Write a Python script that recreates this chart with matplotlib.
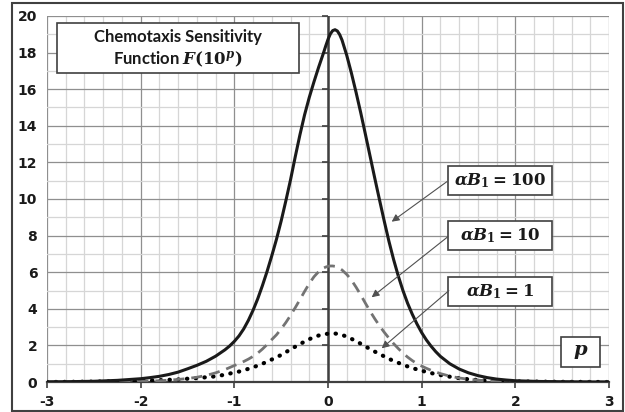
import matplotlib
matplotlib.use("Agg")
import matplotlib.pyplot as plt
from matplotlib.patches import Rectangle
from matplotlib.ticker import MultipleLocator
from matplotlib.markers import TICKLEFT

# p = log10 of concentration
P = [-3.0, -2.75, -2.5, -2.25, -2.0, -1.9, -1.8, -1.7, -1.6, -1.5, -1.4, -1.3, -1.2, -1.1,
     -1.05, -1.0, -0.95, -0.9, -0.85, -0.8, -0.75, -0.7, -0.65, -0.6, -0.55,
     -0.5, -0.45, -0.4, -0.35, -0.3, -0.25, -0.2, -0.15, -0.1, -0.05, -0.025,
     0.0, 0.025,
     0.05, 0.075, 0.1, 0.125, 0.15, 0.2, 0.25, 0.3, 0.35, 0.4, 0.45, 0.5, 0.55, 0.6,
     0.65, 0.7, 0.75, 0.8, 0.85, 0.9, 0.95, 1.0, 1.05, 1.1, 1.15, 1.2,
     1.3, 1.4, 1.5, 1.6, 1.7, 1.8, 1.9, 2.0, 2.25, 2.5, 2.75, 3.0]

F_100 = [0.01, 0.02, 0.04, 0.09, 0.18, 0.24, 0.31, 0.41, 0.54, 0.72, 0.91, 1.13, 1.41, 1.76,
         1.97, 2.22, 2.52, 2.9, 3.37, 3.92, 4.55, 5.27, 6.05, 6.9, 7.8,
         8.8, 9.9, 11.05, 12.3, 13.5, 14.6, 15.55, 16.4, 17.2, 17.95, 18.35,
         18.72, 19.02,
         19.2, 19.25, 19.18, 18.98, 18.68, 17.85, 16.88, 15.82, 14.7, 13.52, 12.32, 11.12, 9.95, 8.8,
         7.7, 6.7, 5.8, 5.0, 4.3, 3.7, 3.17, 2.7, 2.3, 1.96, 1.66, 1.4,
         1.0, 0.71, 0.5, 0.35, 0.24, 0.16, 0.11, 0.07, 0.03, 0.015, 0.005, 0.0]

F_10 = [0.0, 0.005, 0.01, 0.02, 0.04, 0.05, 0.07, 0.1, 0.14, 0.19, 0.26, 0.36, 0.5, 0.68,
        0.79, 0.9, 1.0, 1.12, 1.25, 1.4, 1.58, 1.8, 2.05, 2.32, 2.58,
        2.9, 3.25, 3.64, 4.06, 4.5, 4.95, 5.38, 5.75, 6.03, 6.22, 6.28,
        6.32, 6.34,
        6.34, 6.32, 6.28, 6.21, 6.12, 5.88, 5.57, 5.18, 4.75, 4.3, 3.86, 3.45, 3.07, 2.72,
        2.4, 2.1, 1.83, 1.58, 1.36, 1.17, 1.0, 0.87, 0.75, 0.64, 0.55, 0.46,
        0.32, 0.22, 0.15, 0.1, 0.07, 0.05, 0.03, 0.02, 0.01, 0.005, 0.0, 0.0]

F_1 = [0.0, 0.01, 0.02, 0.04, 0.06, 0.08, 0.1, 0.12, 0.14, 0.18, 0.21, 0.26, 0.31, 0.4,
       0.46, 0.52, 0.57, 0.64, 0.72, 0.8, 0.9, 1.0, 1.11, 1.23, 1.35,
       1.48, 1.63, 1.78, 1.93, 2.07, 2.21, 2.34, 2.45, 2.54, 2.6, 2.62,
       2.64, 2.655,
       2.66, 2.65, 2.63, 2.6, 2.57, 2.48, 2.36, 2.23, 2.09, 1.94, 1.8, 1.66, 1.53, 1.4,
       1.27, 1.15, 1.05, 0.95, 0.85, 0.76, 0.69, 0.62, 0.55, 0.49, 0.43, 0.38,
       0.29, 0.21, 0.15, 0.11, 0.08, 0.06, 0.04, 0.03, 0.02, 0.01, 0.005, 0.0]

X_TICKS = [-3, -2, -1, 0, 1, 2, 3]
Y_TICKS = [0, 2, 4, 6, 8, 10, 12, 14, 16, 18, 20]

LABELS = [r"$\alpha B_1 = 100$", r"$\alpha B_1 = 10$", r"$\alpha B_1 = 1$"]

plt.rcParams["axes.unicode_minus"] = False
plt.rcParams["mathtext.fontset"] = "custom"
plt.rcParams["mathtext.rm"] = "DejaVu Serif:bold"
plt.rcParams["mathtext.it"] = "DejaVu Serif:italic:bold"
plt.rcParams["mathtext.bf"] = "DejaVu Serif:bold"

DARK = "#404040"

fig = plt.figure(figsize=(6.25, 4.12), dpi=100)
ax = fig.add_axes([0.0752, 0.0728, 0.8992, 0.8884])

ax.plot(P, F_1, color="black", lw=3, linestyle=(0, (0.1, 2.0)),
        dash_capstyle="round", zorder=3)
ax.plot(P, F_10, color="#737373", lw=2, linestyle=(0, (4, 2.5)), zorder=3)
ax.plot(P, F_100, color="#1a1a1a", lw=2.2, zorder=4)

ax.set_xlim(-3, 3)
ax.set_ylim(0, 20)
ax.set_xticks(X_TICKS)
ax.set_yticks(Y_TICKS)
ax.xaxis.set_minor_locator(MultipleLocator(0.2))
ax.yaxis.set_minor_locator(MultipleLocator(1))
ax.grid(which="major", color="#8f8f8f", lw=0.9)
ax.grid(which="minor", color="#d6d6d6", lw=0.9)
ax.set_axisbelow(True)

for s in ["top", "right", "left"]:
    ax.spines[s].set_visible(False)
ax.spines["bottom"].set_color(DARK)
ax.spines["bottom"].set_linewidth(1.6)

ax.tick_params(which="minor", length=0)
ax.tick_params(axis="x", which="major", direction="out", length=4, width=1.2,
               color=DARK, pad=5)
ax.tick_params(axis="y", which="major", length=0, pad=7)
for lab in ax.get_xticklabels() + ax.get_yticklabels():
    lab.set_fontweight("bold")
    lab.set_fontsize(10)
    lab.set_color("#1a1a1a")

# vertical axis through p = 0, with its tick marks
ax.axvline(0, color=DARK, lw=1.8, zorder=2.6)
ax.plot([0] * len(Y_TICKS), Y_TICKS, ls="none", marker=TICKLEFT, ms=4, mew=1.2,
        color=DARK, zorder=2.6, clip_on=False)

# title box
ax.add_patch(Rectangle((-2.895, 16.9), 2.59, 2.73, facecolor="white",
                       edgecolor=DARK, lw=1.2, zorder=5))
ax.text(-1.60, 18.83, "Chemotaxis Sensitivity", ha="center", va="center",
        fontsize=12, fontweight="bold", family="Lato", color="#1a1a1a", zorder=6)
ax.text(-1.60, 17.63, r"Function $F(10^p)$", ha="center", va="center",
        fontsize=12, fontweight="bold", family="Lato", color="#1a1a1a", zorder=6)

# curve label boxes with arrows
box_y = [10.2, 7.21, 4.15]
arrow_from = [(1.27, 10.95), (1.28, 7.94), (1.29, 4.99)]
arrow_to = [(0.68, 8.76), (0.466, 4.63), (0.573, 1.84)]
for lab, y0, a0, a1 in zip(LABELS, box_y, arrow_from, arrow_to):
    ax.add_patch(Rectangle((1.28, y0), 1.11, 1.6, facecolor="white",
                           edgecolor=DARK, lw=1.2, zorder=5))
    ax.text(1.835, y0 + 0.8, lab, ha="center", va="center", fontsize=12,
            color="#1a1a1a", zorder=6)
    ax.annotate("", xy=a1, xytext=a0, zorder=6,
                arrowprops=dict(arrowstyle="-|>", color="#505050", lw=0.8,
                                mutation_scale=11, shrinkA=0, shrinkB=0))

ax.add_patch(Rectangle((2.49, 0.84), 0.41, 1.6, facecolor="white",
                       edgecolor=DARK, lw=1.2, zorder=5))
ax.text(2.695, 1.64, r"$p$", ha="center", va="center", fontsize=14,
        color="#1a1a1a", zorder=6)

# outer frame
fig.add_artist(Rectangle((0.0192, 0.0036), 0.9776, 0.989, transform=fig.transFigure,
                         fill=False, edgecolor=DARK, lw=1.5))

fig.savefig("out.png", dpi=100)
plt.close(fig)
